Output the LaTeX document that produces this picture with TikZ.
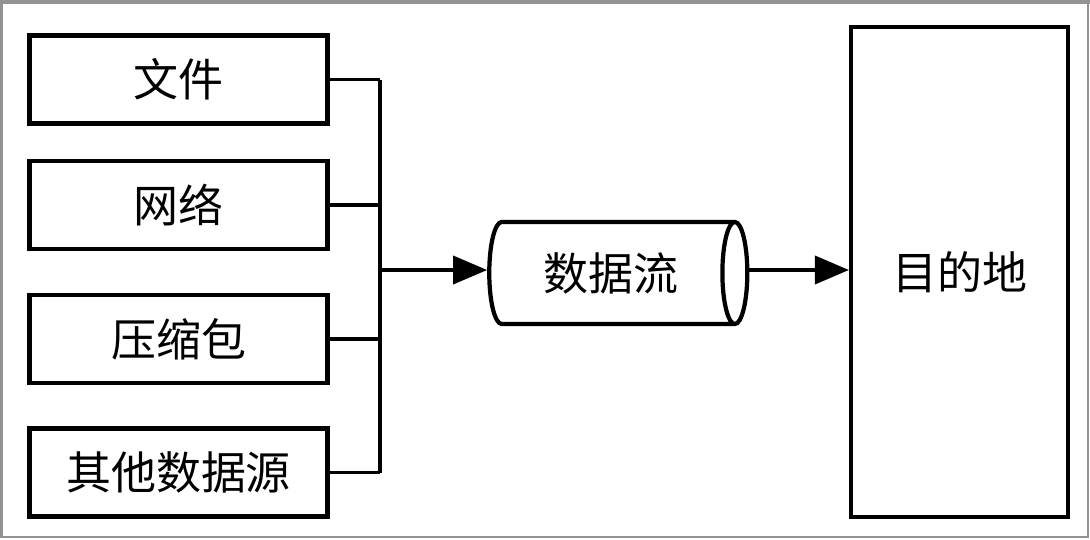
\documentclass[tikz,border=0pt]{standalone}
\usepackage{fontspec}
\newfontfamily\cjk{Noto Sans CJK SC}
\usetikzlibrary{shapes.geometric,arrows.meta}

\tikzset{
  srcbox/.style={draw, line width=3pt, minimum width=7.45cm, minimum height=2.2cm, inner sep=0pt, font=\cjk\fontsize{32}{36}\selectfont},
  link/.style={line width=2.6pt},
  flowarrow/.style={line width=2.6pt, -{Triangle[length=8.5mm, width=7mm]}}
}

\begin{document}
\begin{tikzpicture}[x=0.025cm, y=-0.025cm]
    \useasboundingbox (0,0) rectangle (1090,539);
    % Frame
    \draw[gray!85, line width=2pt] (1.5,2) rectangle (1088,537);
    \draw[gray!85, line width=3pt] (0,1.5) -- (1090,1.5);

    % Sources
    \node[srcbox] (file) at (178.5,79.5) {文件};
    \node[srcbox] (net) at (178.5,205) {网络};
    \node[srcbox] (zip) at (178.5,339) {压缩包};
    \node[srcbox] (other) at (178.5,472.5) {其他数据源};

    % Stream and destination
    \node[draw, line width=3pt, cylinder, aspect=0.6, minimum width=2.55cm, minimum height=6.45cm, inner sep=0pt, font=\cjk\fontsize{32}{36}\selectfont] (flow) at (611,273) {数据流};
    \node[draw, line width=3pt, minimum width=5.42cm, minimum height=12.25cm, font=\cjk\fontsize{32}{36}\selectfont] (dest) at (959.5,272) {目的地};

    % Collector
    \coordinate (jtop) at (380,79.5);
    \coordinate (jbot) at (380,472.5);
    \coordinate (jmid) at (380,270);
    \foreach \s in {file,net,zip,other}
        \draw[link] (\s.east) -- (\s.east -| jmid);
    \draw[link] (jtop) -- (jbot);

    % Arrows
    \draw[flowarrow] (jmid) -- (flow.west |- jmid);
    \draw[flowarrow] (flow.east |- jmid) -- (dest.west |- jmid);

\end{tikzpicture}
\end{document}
